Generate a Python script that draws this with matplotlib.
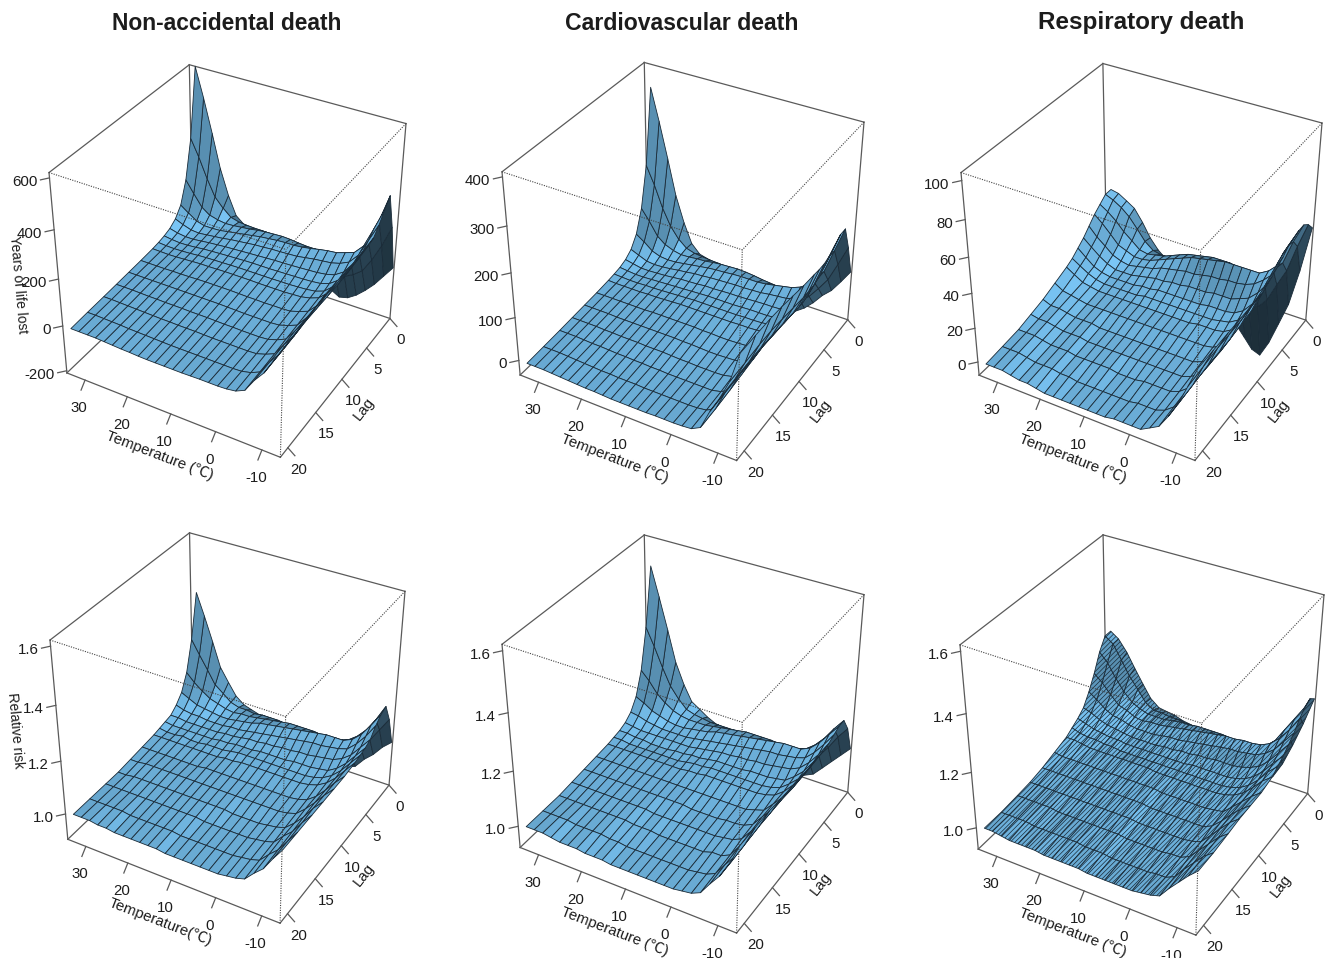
import numpy as np
import matplotlib
matplotlib.use("Agg")
import matplotlib.pyplot as plt
from matplotlib.lines import Line2D
from mpl_toolkits.mplot3d import proj3d

plt.rcParams['font.family'] = ['Liberation Sans', 'Noto Sans CJK SC', 'DejaVu Sans']
plt.rcParams['hatch.linewidth'] = 0.5

temperature = [-13.7, -11.75, -9.8, -7.87, -5.9, -3.98, -2.0, -0.1, 1.87, 3.8, 5.8, 7.7, 9.66,
               11.6, 13.6, 15.5, 17.4, 19.4, 21.3, 23.3, 25.2, 27.2, 29.1, 31.1, 33]
lag = [0, 1, 2, 3, 4, 5, 6, 7, 8, 10, 12, 14, 16, 18.5, 21]
temp_ticks = [30, 20, 10, 0, -10]
lag_ticks = [0, 5, 10, 15, 20]
temp_limits = (-13.9, 34.4)
lag_limits = (0, 21.3)

yll_nonaccidental = [
    [20, 220, 375, 340, 300, 270, 262, 262, 262, 262, 265, 265, 255, 245, 237],
    [-30, 130, 260, 250, 225, 205, 195, 195, 195, 195, 198, 198, 190, 182, 175],
    [-80, 55, 160, 165, 150, 138, 128, 125, 125, 125, 126, 126, 120, 115, 110],
    [-120, -5, 105, 125, 108, 90, 80, 78, 76, 75, 76, 76, 72, 68, 65],
    [-155, -35, 80, 112, 90, 65, 52, 45, 42, 36, 30, 25, 18, 12, 8],
    [-180, -55, 65, 100, 80, 55, 40, 32, 28, 22, 15, 8, 2, -5, -10],
    [-190, -65, 58, 96, 76, 50, 36, 27, 20, 10, 3, -4, -10, -14, -16],
    [-170, -55, 55, 90, 72, 48, 34, 25, 18, 8, 0, -7, -12, -16, -18],
    [-140, -40, 55, 82, 66, 46, 33, 23, 16, 8, 0, -7, -12, -16, -18],
    [-110, -20, 55, 76, 60, 44, 32, 23, 16, 7, 0, -7, -12, -16, -18],
    [-90, -5, 58, 72, 58, 43, 31, 22, 16, 8, 0, -6, -12, -16, -19],
    [-72, 8, 62, 72, 56, 42, 30, 22, 16, 8, 1, -6, -12, -16, -20],
    [-60, 18, 64, 70, 55, 40, 30, 22, 17, 9, 2, -5, -11, -16, -20],
    [-50, 24, 62, 66, 52, 38, 30, 22, 17, 10, 3, -4, -10, -16, -20],
    [-40, 28, 60, 62, 50, 36, 29, 22, 17, 10, 3, -4, -10, -16, -20],
    [-30, 30, 56, 56, 46, 34, 27, 21, 17, 10, 3, -4, -10, -15, -20],
    [-22, 30, 50, 50, 42, 32, 26, 20, 16, 10, 3, -3, -9, -14, -19],
    [-12, 32, 46, 44, 38, 30, 24, 19, 15, 9, 3, -3, -9, -13, -17],
    [0, 35, 42, 38, 32, 27, 22, 18, 15, 8, 3, -3, -8, -12, -16],
    [30, 45, 40, 32, 28, 24, 20, 16, 13, 7, 3, -2, -7, -11, -14],
    [110, 75, 45, 30, 24, 20, 16, 13, 11, 7, 3, -2, -6, -9, -12],
    [220, 115, 55, 30, 20, 16, 13, 11, 9, 6, 3, -1, -5, -8, -10],
    [360, 185, 80, 40, 23, 16, 12, 10, 8, 6, 3, 0, -4, -7, -10],
    [500, 270, 130, 65, 35, 21, 15, 11, 9, 6, 3, 0, -3, -6, -10],
    [620, 340, 180, 90, 50, 30, 20, 14, 10, 6, 3, 0, -3, -6, -10],
]
yll_cardiovascular = [
    [80, 150, 205, 205, 195, 185, 180, 180, 182, 185, 190, 195, 198, 199, 199],
    [50, 105, 150, 150, 140, 130, 125, 124, 124, 128, 132, 135, 135, 132, 130],
    [22, 62, 95, 100, 92, 84, 80, 80, 82, 85, 88, 90, 90, 88, 85],
    [3, 34, 62, 72, 60, 52, 48, 49, 50, 52, 54, 54, 52, 50, 48],
    [-22, 8, 42, 58, 44, 30, 26, 25, 24, 20, 16, 12, 8, 4, 2],
    [-42, -10, 32, 50, 38, 26, 20, 18, 16, 10, 5, 0, -4, -7, -9],
    [-57, -20, 26, 46, 36, 25, 18, 15, 12, 5, 0, -5, -9, -10, -11],
    [-60, -20, 24, 42, 34, 25, 18, 14, 11, 4, -1, -6, -9, -11, -12],
    [-55, -15, 26, 38, 31, 24, 18, 14, 11, 3, -2, -6, -9, -11, -12],
    [-45, -10, 28, 36, 30, 23, 17, 13, 10, 3, -2, -6, -9, -11, -12],
    [-35, -4, 31, 36, 29, 22, 16, 13, 10, 4, -1, -5, -9, -11, -13],
    [-26, 3, 33, 36, 29, 22, 16, 13, 10, 4, 0, -5, -9, -11, -13],
    [-20, 8, 34, 35, 28, 21, 16, 13, 10, 5, 0, -4, -8, -11, -13],
    [-16, 11, 33, 33, 27, 20, 16, 13, 10, 5, 1, -3, -8, -10, -13],
    [-12, 13, 32, 32, 26, 20, 15, 13, 10, 5, 1, -3, -7, -10, -13],
    [-8, 15, 30, 30, 24, 18, 14, 12, 10, 5, 1, -3, -7, -10, -12],
    [-5, 16, 27, 27, 23, 17, 13, 11, 9, 5, 1, -2, -6, -9, -11],
    [0, 18, 26, 24, 20, 16, 12, 10, 8, 5, 1, -2, -6, -9, -11],
    [5, 20, 24, 21, 18, 14, 11, 9, 7, 4, 1, -2, -5, -8, -10],
    [25, 26, 23, 18, 15, 12, 10, 8, 7, 4, 1, -1, -4, -7, -9],
    [70, 42, 27, 17, 13, 11, 9, 8, 6, 4, 1, -1, -4, -6, -8],
    [130, 68, 35, 19, 12, 10, 8, 7, 6, 4, 2, 0, -3, -5, -7],
    [210, 105, 50, 26, 14, 10, 8, 7, 6, 4, 2, 0, -2, -4, -6],
    [290, 155, 80, 42, 22, 14, 10, 8, 6, 4, 2, 0, -2, -4, -6],
    [360, 195, 105, 55, 30, 18, 12, 9, 7, 4, 2, 0, -2, -4, -6],
]
yll_respiratory = [
    [47, 52, 55, 55, 54, 53, 50, 48, 46, 43, 43, 43, 43, 43, 43],
    [20, 38, 44, 45, 44, 42, 40, 38, 36, 34, 33, 33, 33, 32, 31],
    [-2, 22, 30, 32, 30, 28, 26, 24, 23, 22, 21, 21, 21, 20, 19],
    [-16, 12, 24, 27, 25, 21, 18, 16, 15, 13, 12, 12, 12, 11, 10],
    [-30, 1, 18, 24, 21, 16, 12, 10, 8, 6, 5, 4, 4, 3, 2],
    [-40, -5, 18, 24, 19, 14, 9, 7, 5, 3, 2, 1, 0, -1, -1],
    [-38, -6, 18, 24, 18, 12, 8, 6, 4, 2, 0, -1, -2, -3, -4],
    [-32, -4, 19, 24, 18, 12, 8, 5, 4, 2, 0, -1, -2, -3, -4],
    [-26, -2, 20, 24, 17, 12, 8, 5, 4, 2, 0, -1, -2, -3, -4],
    [-20, 0, 20, 23, 17, 11, 7, 5, 3, 2, 0, -1, -2, -4, -4],
    [-10, 2, 20, 22, 16, 11, 7, 5, 3, 2, 0, -1, -3, -4, -5],
    [-7, 4, 19, 21, 15, 11, 7, 5, 3, 2, 0, -1, -3, -4, -5],
    [-4, 6, 18, 20, 15, 10, 7, 5, 3, 2, 0, -1, -3, -4, -5],
    [-3, 6, 17, 18, 14, 10, 7, 5, 3, 2, 0, -1, -2, -4, -5],
    [-2, 7, 15, 16, 13, 9, 7, 5, 3, 2, 0, -1, -2, -4, -5],
    [-1, 7, 13, 14, 12, 9, 6, 5, 3, 2, 0, -1, -2, -4, -5],
    [0, 7, 11, 12, 10, 8, 6, 4, 3, 2, 0, -1, -2, -3, -5],
    [1, 7, 10, 10, 9, 7, 5, 4, 3, 2, 0, -1, -2, -3, -5],
    [5, 8, 9, 9, 8, 6, 5, 4, 3, 2, 1, 0, -1, -2, -4],
    [11, 12, 10, 9, 7, 6, 5, 4, 3, 2, 1, 0, -1, -2, -3],
    [19, 18, 14, 11, 8, 6, 5, 4, 3, 2, 1, 0, -1, -2, -3],
    [26, 24, 18, 13, 10, 8, 6, 5, 4, 3, 2, 1, 0, -1, -2],
    [29, 28, 23, 18, 14, 11, 8, 7, 5, 4, 3, 2, 1, 0, -1],
    [32, 31, 27, 23, 18, 15, 12, 10, 8, 5, 3, 2, 1, 0, -1],
    [33, 33, 30, 27, 23, 19, 16, 13, 11, 8, 5, 3, 1, 0, -1],
]
rr_nonaccidental = [
    [1.07, 1.18, 1.25, 1.24, 1.22, 1.19, 1.18, 1.175, 1.17, 1.165, 1.165, 1.165, 1.165, 1.165, 1.165],
    [1.04, 1.13, 1.19, 1.19, 1.17, 1.15, 1.14, 1.135, 1.13, 1.13, 1.13, 1.13, 1.125, 1.12, 1.12],
    [1.00, 1.08, 1.14, 1.145, 1.13, 1.11, 1.10, 1.095, 1.09, 1.09, 1.09, 1.085, 1.08, 1.075, 1.07],
    [0.97, 1.04, 1.105, 1.115, 1.10, 1.085, 1.07, 1.065, 1.06, 1.055, 1.055, 1.05, 1.05, 1.045, 1.04],
    [0.93, 1.00, 1.08, 1.10, 1.09, 1.07, 1.05, 1.045, 1.04, 1.03, 1.025, 1.02, 1.015, 1.01, 1.005],
    [0.915, 0.985, 1.07, 1.10, 1.085, 1.065, 1.045, 1.035, 1.03, 1.02, 1.015, 1.01, 1.005, 1.00, 0.995],
    [0.91, 0.98, 1.065, 1.10, 1.08, 1.06, 1.04, 1.03, 1.025, 1.015, 1.01, 1.005, 1.00, 0.995, 0.99],
    [0.92, 0.985, 1.065, 1.095, 1.08, 1.055, 1.04, 1.03, 1.025, 1.015, 1.01, 1.00, 0.995, 0.99, 0.985],
    [0.945, 1.00, 1.07, 1.09, 1.075, 1.055, 1.04, 1.03, 1.025, 1.015, 1.01, 1.00, 0.995, 0.99, 0.985],
    [0.96, 1.01, 1.07, 1.085, 1.07, 1.05, 1.035, 1.03, 1.025, 1.015, 1.01, 1.00, 0.995, 0.99, 0.985],
    [0.975, 1.02, 1.07, 1.08, 1.065, 1.05, 1.035, 1.03, 1.025, 1.015, 1.01, 1.00, 0.995, 0.99, 0.985],
    [0.99, 1.03, 1.07, 1.075, 1.06, 1.045, 1.035, 1.03, 1.025, 1.015, 1.01, 1.005, 0.995, 0.99, 0.985],
    [1.00, 1.035, 1.065, 1.07, 1.055, 1.045, 1.035, 1.03, 1.025, 1.015, 1.01, 1.005, 0.995, 0.99, 0.985],
    [1.00, 1.04, 1.06, 1.065, 1.05, 1.04, 1.03, 1.03, 1.025, 1.015, 1.01, 1.005, 1.00, 0.99, 0.985],
    [1.005, 1.04, 1.055, 1.06, 1.045, 1.04, 1.03, 1.03, 1.02, 1.015, 1.01, 1.005, 1.00, 0.995, 0.99],
    [1.01, 1.04, 1.05, 1.05, 1.04, 1.035, 1.03, 1.025, 1.02, 1.015, 1.01, 1.005, 1.00, 0.995, 0.99],
    [1.01, 1.035, 1.045, 1.045, 1.035, 1.03, 1.025, 1.02, 1.015, 1.015, 1.01, 1.005, 1.00, 0.995, 0.99],
    [1.02, 1.04, 1.045, 1.04, 1.035, 1.03, 1.025, 1.02, 1.015, 1.01, 1.01, 1.005, 1.00, 0.995, 0.99],
    [1.03, 1.04, 1.04, 1.035, 1.03, 1.025, 1.02, 1.02, 1.015, 1.01, 1.01, 1.005, 1.00, 0.995, 0.99],
    [1.055, 1.05, 1.045, 1.035, 1.03, 1.025, 1.02, 1.015, 1.015, 1.01, 1.01, 1.005, 1.00, 0.995, 0.99],
    [1.10, 1.075, 1.055, 1.04, 1.03, 1.025, 1.02, 1.015, 1.015, 1.01, 1.01, 1.005, 1.00, 1.00, 0.995],
    [1.15, 1.10, 1.065, 1.045, 1.035, 1.025, 1.02, 1.02, 1.015, 1.01, 1.01, 1.005, 1.00, 1.00, 0.995],
    [1.24, 1.15, 1.085, 1.05, 1.035, 1.025, 1.02, 1.015, 1.015, 1.01, 1.01, 1.005, 1.00, 1.00, 1.00],
    [1.33, 1.20, 1.11, 1.065, 1.04, 1.03, 1.02, 1.015, 1.015, 1.01, 1.005, 1.00, 1.00, 1.00, 1.00],
    [1.41, 1.25, 1.14, 1.08, 1.05, 1.03, 1.025, 1.02, 1.015, 1.01, 1.005, 1.00, 1.00, 1.00, 1.00],
]
rr_cardiovascular = [
    [1.085, 1.18, 1.23, 1.23, 1.22, 1.21, 1.205, 1.205, 1.205, 1.205, 1.21, 1.215, 1.22, 1.22, 1.22],
    [1.05, 1.14, 1.19, 1.19, 1.175, 1.16, 1.155, 1.15, 1.15, 1.15, 1.155, 1.155, 1.155, 1.15, 1.145],
    [1.015, 1.09, 1.145, 1.15, 1.135, 1.12, 1.11, 1.105, 1.105, 1.105, 1.105, 1.105, 1.10, 1.095, 1.09],
    [0.98, 1.05, 1.11, 1.12, 1.105, 1.09, 1.08, 1.075, 1.07, 1.07, 1.07, 1.065, 1.06, 1.055, 1.05],
    [0.945, 1.01, 1.085, 1.105, 1.095, 1.075, 1.055, 1.05, 1.045, 1.035, 1.03, 1.025, 1.015, 1.01, 1.005],
    [0.93, 0.995, 1.075, 1.105, 1.09, 1.07, 1.05, 1.04, 1.035, 1.025, 1.015, 1.01, 1.00, 0.995, 0.99],
    [0.925, 0.985, 1.07, 1.105, 1.085, 1.065, 1.045, 1.035, 1.03, 1.015, 1.01, 1.005, 1.00, 0.99, 0.985],
    [0.93, 0.99, 1.07, 1.10, 1.085, 1.06, 1.045, 1.035, 1.03, 1.015, 1.01, 1.00, 0.99, 0.985, 0.98],
    [0.945, 1.005, 1.075, 1.095, 1.08, 1.06, 1.045, 1.035, 1.03, 1.015, 1.005, 1.00, 0.99, 0.985, 0.98],
    [0.96, 1.015, 1.075, 1.09, 1.075, 1.055, 1.04, 1.035, 1.03, 1.015, 1.005, 1.00, 0.99, 0.985, 0.98],
    [0.975, 1.025, 1.075, 1.085, 1.07, 1.055, 1.04, 1.035, 1.03, 1.015, 1.005, 1.00, 0.99, 0.985, 0.98],
    [0.99, 1.03, 1.075, 1.08, 1.065, 1.05, 1.04, 1.035, 1.03, 1.015, 1.005, 1.00, 0.99, 0.985, 0.98],
    [1.00, 1.035, 1.07, 1.075, 1.06, 1.05, 1.04, 1.035, 1.03, 1.015, 1.01, 1.00, 0.99, 0.985, 0.98],
    [1.005, 1.04, 1.065, 1.07, 1.055, 1.045, 1.035, 1.03, 1.025, 1.015, 1.01, 1.00, 0.995, 0.985, 0.98],
    [1.005, 1.04, 1.06, 1.065, 1.05, 1.04, 1.03, 1.03, 1.025, 1.015, 1.01, 1.00, 0.995, 0.985, 0.98],
    [1.01, 1.04, 1.055, 1.055, 1.045, 1.035, 1.03, 1.025, 1.02, 1.015, 1.01, 1.005, 0.995, 0.99, 0.985],
    [1.015, 1.04, 1.05, 1.05, 1.04, 1.03, 1.025, 1.02, 1.02, 1.015, 1.01, 1.005, 1.00, 0.99, 0.985],
    [1.03, 1.045, 1.05, 1.045, 1.035, 1.03, 1.025, 1.02, 1.02, 1.015, 1.01, 1.005, 1.00, 0.995, 0.985],
    [1.05, 1.05, 1.05, 1.04, 1.035, 1.03, 1.02, 1.02, 1.02, 1.015, 1.01, 1.005, 1.00, 0.995, 0.99],
    [1.07, 1.06, 1.055, 1.04, 1.035, 1.03, 1.02, 1.02, 1.02, 1.015, 1.01, 1.005, 1.00, 0.995, 0.99],
    [1.125, 1.09, 1.065, 1.045, 1.035, 1.03, 1.02, 1.02, 1.02, 1.015, 1.01, 1.005, 1.00, 0.995, 0.99],
    [1.20, 1.13, 1.085, 1.055, 1.04, 1.03, 1.025, 1.02, 1.02, 1.015, 1.01, 1.005, 1.00, 1.00, 0.995],
    [1.31, 1.19, 1.11, 1.065, 1.045, 1.03, 1.025, 1.02, 1.02, 1.015, 1.01, 1.005, 1.00, 1.00, 1.00],
    [1.42, 1.26, 1.15, 1.085, 1.055, 1.035, 1.03, 1.025, 1.02, 1.015, 1.01, 1.005, 1.00, 1.00, 1.00],
    [1.52, 1.32, 1.18, 1.10, 1.06, 1.04, 1.03, 1.025, 1.02, 1.015, 1.01, 1.005, 1.00, 1.00, 1.00],
]
rr_respiratory = [
    [1.27, 1.29, 1.28, 1.26, 1.23, 1.21, 1.19, 1.175, 1.16, 1.15, 1.15, 1.15, 1.145, 1.14, 1.14],
    [1.17, 1.22, 1.23, 1.21, 1.19, 1.17, 1.155, 1.145, 1.135, 1.125, 1.125, 1.125, 1.12, 1.115, 1.11],
    [1.08, 1.14, 1.18, 1.17, 1.15, 1.13, 1.115, 1.105, 1.10, 1.095, 1.095, 1.09, 1.085, 1.08, 1.075],
    [1.00, 1.07, 1.13, 1.14, 1.125, 1.10, 1.085, 1.075, 1.07, 1.065, 1.06, 1.055, 1.05, 1.045, 1.04],
    [0.94, 1.02, 1.10, 1.125, 1.11, 1.085, 1.065, 1.055, 1.05, 1.035, 1.03, 1.02, 1.015, 1.005, 1.00],
    [0.92, 0.99, 1.085, 1.12, 1.105, 1.075, 1.055, 1.045, 1.04, 1.03, 1.015, 1.01, 1.00, 0.99, 0.99],
    [0.92, 0.99, 1.08, 1.12, 1.10, 1.07, 1.05, 1.04, 1.035, 1.025, 1.015, 1.005, 1.00, 0.99, 0.985],
    [0.93, 0.995, 1.08, 1.115, 1.10, 1.07, 1.05, 1.04, 1.035, 1.025, 1.015, 1.005, 0.995, 0.985, 0.98],
    [0.95, 1.01, 1.085, 1.115, 1.095, 1.07, 1.05, 1.04, 1.035, 1.025, 1.015, 1.005, 0.995, 0.985, 0.98],
    [0.97, 1.02, 1.09, 1.11, 1.09, 1.065, 1.05, 1.04, 1.035, 1.025, 1.015, 1.005, 0.995, 0.985, 0.98],
    [0.99, 1.035, 1.09, 1.105, 1.085, 1.065, 1.05, 1.04, 1.035, 1.025, 1.015, 1.005, 0.995, 0.985, 0.98],
    [1.005, 1.045, 1.09, 1.10, 1.08, 1.06, 1.045, 1.04, 1.035, 1.025, 1.015, 1.005, 0.995, 0.985, 0.98],
    [1.02, 1.05, 1.09, 1.095, 1.075, 1.06, 1.045, 1.04, 1.035, 1.03, 1.02, 1.01, 1.00, 0.99, 0.98],
    [1.03, 1.06, 1.085, 1.09, 1.07, 1.055, 1.045, 1.04, 1.035, 1.03, 1.02, 1.01, 1.00, 0.99, 0.985],
    [1.035, 1.06, 1.085, 1.085, 1.07, 1.055, 1.045, 1.04, 1.04, 1.03, 1.02, 1.01, 1.00, 0.99, 0.985],
    [1.04, 1.065, 1.08, 1.08, 1.065, 1.05, 1.045, 1.04, 1.04, 1.03, 1.02, 1.01, 1.00, 0.995, 0.985],
    [1.05, 1.065, 1.075, 1.075, 1.06, 1.05, 1.045, 1.04, 1.04, 1.03, 1.02, 1.01, 1.00, 0.995, 0.985],
    [1.055, 1.07, 1.075, 1.075, 1.06, 1.05, 1.045, 1.04, 1.04, 1.03, 1.02, 1.01, 1.00, 0.995, 0.985],
    [1.06, 1.07, 1.075, 1.07, 1.06, 1.05, 1.045, 1.04, 1.04, 1.03, 1.02, 1.01, 1.00, 0.995, 0.99],
    [1.085, 1.09, 1.085, 1.075, 1.065, 1.055, 1.05, 1.045, 1.04, 1.03, 1.02, 1.01, 1.00, 0.995, 0.99],
    [1.13, 1.13, 1.10, 1.09, 1.075, 1.06, 1.05, 1.045, 1.04, 1.03, 1.02, 1.01, 1.005, 0.995, 0.99],
    [1.18, 1.17, 1.13, 1.10, 1.08, 1.065, 1.055, 1.05, 1.04, 1.03, 1.02, 1.01, 1.005, 1.00, 0.99],
    [1.23, 1.22, 1.17, 1.13, 1.095, 1.075, 1.06, 1.05, 1.045, 1.03, 1.02, 1.01, 1.005, 1.00, 0.995],
    [1.27, 1.27, 1.22, 1.165, 1.12, 1.09, 1.07, 1.055, 1.05, 1.03, 1.02, 1.01, 1.005, 1.00, 1.00],
    [1.29, 1.29, 1.25, 1.19, 1.14, 1.10, 1.08, 1.065, 1.05, 1.035, 1.02, 1.01, 1.005, 1.00, 1.00],
]

titles = ["Non-accidental death", "Cardiovascular death", "Respiratory death"]
title_centers = [(227, 24), (682, 23), (1141, 23)]
title_sizes = [16.4, 16.6, 17.5]
panels = [
    dict(z=yll_nonaccidental, zlim=(-210, 620), zt=[-200, 0, 200, 400, 600], box=(49, 61, 406, 461), t="Temperature (℃)"),
    dict(z=yll_cardiovascular, zlim=(-35, 410), zt=[0, 100, 200, 300, 400], box=(502, 60, 864, 463), t="Temperature (℃)"),
    dict(z=yll_respiratory, zlim=(-8, 104), zt=[0, 20, 40, 60, 80, 100], box=(961, 60, 1322, 464), t="Temperature (℃)"),
    dict(z=rr_nonaccidental, zlim=(0.9, 1.62), zt=[1.0, 1.2, 1.4, 1.6], box=(50, 530, 405, 926), t="Temperature(℃)", fmt="%.1f"),
    dict(z=rr_cardiovascular, zlim=(0.92, 1.62), zt=[1.0, 1.2, 1.4, 1.6], box=(502, 530, 864, 938), t="Temperature (℃)", fmt="%.1f"),
    dict(z=rr_respiratory, zlim=(0.92, 1.62), zt=[1.0, 1.2, 1.4, 1.6], box=(960, 532, 1324, 938), t="Temperature (℃)", fmt="%.1f", dense=True),
]

W, H = 1326, 958
fig = plt.figure(figsize=(W / 100, H / 100), dpi=100, facecolor="white")
BASE = np.array([122, 198, 246]) / 255
LIGHT = np.array([-0.35, 0.3, 0.89])
LINE = "#5a5a5a"
TXT = "#1c1c1c"


def shade(X, Y, Z, xl, yl, zl):
    x = (X - xl[0]) / (xl[1] - xl[0])
    y = (Y - yl[0]) / (yl[1] - yl[0])
    z = (Z - zl[0]) / (zl[1] - zl[0])
    d1 = np.stack([x[1:, 1:] - x[:-1, :-1], y[1:, 1:] - y[:-1, :-1], z[1:, 1:] - z[:-1, :-1]], -1)
    d2 = np.stack([x[:-1, 1:] - x[1:, :-1], y[:-1, 1:] - y[1:, :-1], z[:-1, 1:] - z[1:, :-1]], -1)
    n = np.cross(d1, d2)
    n = n / np.linalg.norm(n, axis=-1, keepdims=True)
    n = n * np.sign(n[..., 2:3])
    n[..., 0] = np.minimum(n[..., 0], 0)
    n = n / np.linalg.norm(n, axis=-1, keepdims=True)
    c = (n @ (LIGHT / np.linalg.norm(LIGHT)))
    s = ((1 + c) / 2) ** 3
    under = np.maximum(s, 0.16 + 0.5 * n[..., 2])
    s = np.where(n[..., 1] > 0, np.maximum(s, 0.72), under)
    return np.dstack([s[..., None] * BASE, np.ones(s.shape + (1,))])


def corners(xl, yl, zl):
    return [(a, b, c) for a in xl for b in yl for c in zl]


def to_px(ax, p):
    x, y, _ = proj3d.proj_transform(p[0], p[1], p[2], ax.get_proj())
    d = ax.transData.transform((x, y))
    return d[0], H - d[1]


def fit(ax, xl, yl, zl, box):
    s, cx, cy = 360.0, (box[0] + box[2]) / 2, (box[1] + box[3]) / 2
    for _ in range(4):
        ax.set_position([(cx - s / 2) / W, 1 - (cy + s / 2) / H, s / W, s / H])
        ax.apply_aspect()
        pts = np.array([to_px(ax, p) for p in corners(xl, yl, zl)])
        w = pts[:, 0].max() - pts[:, 0].min()
        s *= (box[2] - box[0]) / w
        ax.set_position([(cx - s / 2) / W, 1 - (cy + s / 2) / H, s / W, s / H])
        ax.apply_aspect()
        pts = np.array([to_px(ax, p) for p in corners(xl, yl, zl)])
        cx += (box[0] + box[2]) / 2 - (pts[:, 0].max() + pts[:, 0].min()) / 2
        cy += (box[1] + box[3]) / 2 - (pts[:, 1].max() + pts[:, 1].min()) / 2
    ax.set_position([(cx - s / 2) / W, 1 - (cy + s / 2) / H, s / W, s / H])
    ax.apply_aspect()


def fline(p, q):
    fig.add_artist(Line2D([p[0] / W, q[0] / W], [1 - p[1] / H, 1 - q[1] / H],
                          color=LINE, lw=0.9, transform=fig.transFigure))


def ftext(x, y, s, **kw):
    fig.text(x / W, 1 - y / H, s, color=TXT, **kw)


xl = temp_limits
yl = lag_limits
for pn in panels:
    ax = fig.add_axes([0, 0, 1, 1], projection="3d", computed_zorder=False)
    ax.patch.set_alpha(0)
    ax.set_proj_type("persp", focal_length=0.62)
    ax.view_init(elev=35, azim=120)
    ax.set_box_aspect((1, 1, 0.97))
    zl = pn["zlim"]
    ax.set_xlim(*xl, view_margin=0)
    ax.set_ylim(*yl, view_margin=0)
    ax.set_zlim(*zl, view_margin=0)
    ax.set_axis_off()
    fit(ax, xl, yl, zl, pn["box"])

    X, Y = np.meshgrid(temperature, lag, indexing="ij")
    Z = np.array(pn["z"], dtype=float)
    surf = ax.plot_surface(X, Y, Z, rstride=1, cstride=1, facecolors=shade(X, Y, Z, xl, yl, zl),
                           shade=False, edgecolor="#1a2b38", linewidth=0.6, zorder=2)
    if pn.get("dense"):
        surf.set_hatch("///////")

    a, b = xl[1], xl[0]  # warm side, cold side
    far, near = yl[0], yl[1]
    lo, hi = zl
    solid = [((a, far, lo), (a, far, hi)), ((a, near, lo), (a, near, hi)), ((b, far, lo), (b, far, hi)),
             ((a, far, hi), (a, near, hi)), ((a, far, hi), (b, far, hi)),
             ((a, far, lo), (a, near, lo)), ((a, far, lo), (b, far, lo))]
    front = [((a, near, lo), (b, near, lo)), ((b, near, lo), (b, far, lo))]
    dotted = [((b, near, lo), (b, near, hi)), ((a, near, hi), (b, near, hi)), ((b, far, hi), (b, near, hi))]
    for p, q in solid:
        ax.plot(*zip(p, q), color=LINE, lw=0.9, zorder=1)
    for p, q in front:
        ax.plot(*zip(p, q), color=LINE, lw=0.9, zorder=3)
    for p, q in dotted:
        ax.plot(*zip(p, q), color="#444444", lw=0.8, ls=(0, (1, 1.2)), zorder=3)

    for t in temp_ticks:
        e = to_px(ax, (t, near, lo))
        fline(e, (e[0] - 4, e[1] + 10))
        ftext(e[0] - 6, e[1] + 28, str(t), fontsize=10.8, ha="center", va="center")
    for l in lag_ticks:
        e = to_px(ax, (b, l, lo))
        fline(e, (e[0] + 7, e[1] + 8))
        ftext(e[0] + 11, e[1] + 22, str(l), fontsize=10.8, ha="center", va="center")
    for v in pn["zt"]:
        e = to_px(ax, (a, near, v))
        fline(e, (e[0] - 9, e[1] + 2))
        txt = pn.get("fmt", "%d") % v
        ftext(e[0] - 12, e[1] + 4, txt, fontsize=10.8, ha="right", va="center")
    p0, p1 = to_px(ax, (a, near, lo)), to_px(ax, (b, near, lo))
    ftext((p0[0] + p1[0]) / 2 - 14, (p0[1] + p1[1]) / 2 + 41, pn["t"], fontsize=10.8,
          rotation=-21, ha="center", va="center", rotation_mode="anchor")
    p2 = to_px(ax, (b, far, lo))
    ftext((p1[0] + p2[0]) / 2 + 29, (p1[1] + p2[1]) / 2 + 21, "Lag", fontsize=10.8,
          rotation=52, ha="center", va="center", rotation_mode="anchor")

for s, (x, y), fs in zip(titles, title_centers, title_sizes):
    ftext(x, y, s, fontsize=fs, fontweight="bold", ha="center", va="center")
ftext(18, 285, "Years of life lost", fontsize=10, rotation=-85, ha="center", va="center")
ftext(15, 731, "Relative risk", fontsize=10, rotation=-85, ha="center", va="center")

fig.savefig("out.png", dpi=100, facecolor="white")
